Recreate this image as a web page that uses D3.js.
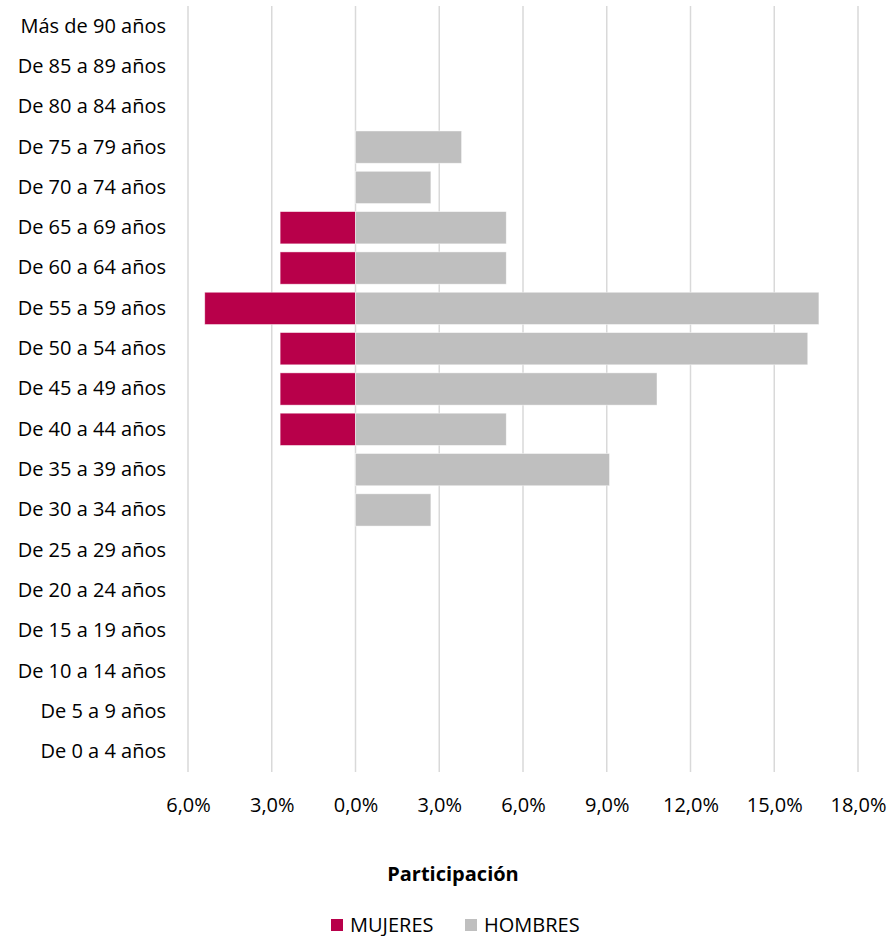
<!DOCTYPE html>
<html>
<head>
<meta charset="utf-8">
<script src="https://cdn.jsdelivr.net/npm/d3@7"></script>
<style>
  body { margin: 0; background: #fff; }
  svg { font-family: "Open Sans", "Noto Sans", sans-serif; }
</style>
</head>
<body>
<div id="chart"></div>
<script>
// grupos de edad, de arriba hacia abajo
const ageGroups = [
  "Más de 90 años", "De 85 a 89 años", "De 80 a 84 años", "De 75 a 79 años",
  "De 70 a 74 años", "De 65 a 69 años", "De 60 a 64 años", "De 55 a 59 años",
  "De 50 a 54 años", "De 45 a 49 años", "De 40 a 44 años", "De 35 a 39 años",
  "De 30 a 34 años", "De 25 a 29 años", "De 20 a 24 años", "De 15 a 19 años",
  "De 10 a 14 años", "De 5 a 9 años", "De 0 a 4 años"
];
// participación en %
const mujeres = [0, 0, 0, 0, 0, 2.7, 2.7, 5.4, 2.7, 2.7, 2.7, 0, 0, 0, 0, 0, 0, 0, 0];
const hombres = [0, 0, 0, 3.8, 2.7, 5.4, 5.4, 16.6, 16.2, 10.8, 5.4, 9.1, 2.7, 0, 0, 0, 0, 0, 0];
const xTicks = [-6, -3, 0, 3, 6, 9, 12, 15, 18];
const series = [
  { name: "MUJERES", values: mujeres, color: "#B8004A", sign: -1 },
  { name: "HOMBRES", values: hombres, color: "#BFBFBF", sign: 1 }
];

const width = 887, height = 936;
const margin = { top: 6, right: 29, bottom: 164, left: 188 };
const fontSize = 20;

const svg = d3.select("#chart").append("svg")
  .attr("width", width)
  .attr("height", height);

const x = d3.scaleLinear()
  .domain([-6, 18])
  .range([margin.left, width - margin.right]);

const y = d3.scaleBand()
  .domain(ageGroups)
  .range([margin.top, height - margin.bottom])
  .paddingInner(0.2)
  .paddingOuter(0.1);

// líneas de la cuadrícula
svg.append("g")
  .selectAll("line")
  .data(xTicks)
  .join("line")
  .attr("x1", d => x(d))
  .attr("x2", d => x(d))
  .attr("y1", margin.top)
  .attr("y2", height - margin.bottom)
  .attr("stroke", "#D9D9D9")
  .attr("stroke-width", 1.5);

// barras
series.forEach(s => {
  svg.append("g")
    .selectAll("rect")
    .data(ageGroups.map((g, i) => ({ group: g, value: s.values[i] })).filter(d => d.value > 0))
    .join("rect")
    .attr("x", d => s.sign < 0 ? x(-d.value) : x(0))
    .attr("width", d => x(d.value) - x(0))
    .attr("y", d => y(d.group))
    .attr("height", y.bandwidth())
    .attr("fill", s.color)
    .attr("stroke", "#fff")
    .attr("stroke-opacity", 0.6)
    .attr("stroke-width", 0.75);
});

// eje vertical (categorías)
const yAxis = svg.append("g")
  .attr("transform", `translate(${margin.left},0)`)
  .call(d3.axisLeft(y).tickSize(0).tickPadding(22));
yAxis.select(".domain").remove();
yAxis.selectAll("text")
  .attr("font-size", fontSize)
  .attr("font-family", "'Open Sans', sans-serif")
  .attr("fill", "#000");

// eje horizontal
const fmt = d => d3.format(".1f")(Math.abs(d)).replace(".", ",") + "%";
const xAxis = svg.append("g")
  .attr("transform", `translate(0,${height - margin.bottom})`)
  .call(d3.axisBottom(x).tickValues(xTicks).tickFormat(fmt).tickSize(0).tickPadding(26));
xAxis.select(".domain").remove();
xAxis.selectAll("text")
  .attr("font-size", fontSize)
  .attr("font-family", "'Open Sans', sans-serif")
  .attr("fill", "#000");

// título del eje
svg.append("text")
  .attr("x", 453)
  .attr("y", 881)
  .attr("text-anchor", "middle")
  .attr("font-size", fontSize)
  .attr("font-weight", "bold")
  .attr("fill", "#000")
  .text("Participación");

// leyenda
const legendX = [331, 465];
const legend = svg.append("g")
  .selectAll("g")
  .data(series)
  .join("g")
  .attr("transform", (d, i) => `translate(${legendX[i]},919)`);
legend.append("rect")
  .attr("width", 12)
  .attr("height", 12)
  .attr("fill", d => d.color);
legend.append("text")
  .attr("x", 19)
  .attr("y", 12.5)
  .attr("font-size", fontSize)
  .attr("fill", "#000")
  .text(d => d.name);
</script>
</body>
</html>
